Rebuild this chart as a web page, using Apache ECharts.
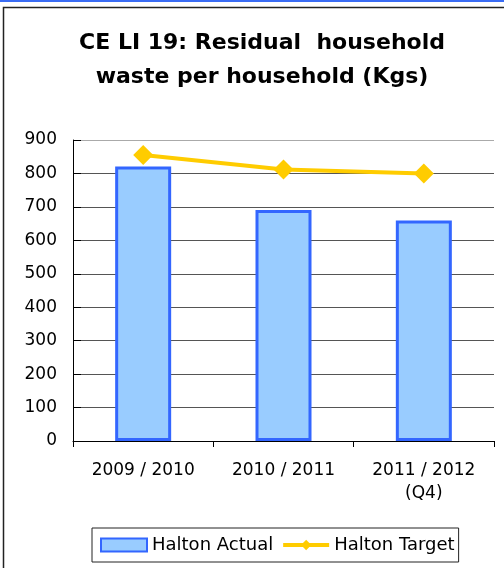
<!DOCTYPE html>
<html>
<head>
<meta charset="utf-8">
<script src="https://cdn.jsdelivr.net/npm/echarts@6/dist/echarts.min.js"></script>
<style>
  html, body { margin: 0; padding: 0; background: #fff; }
  #chart { width: 504px; height: 568px; }
</style>
</head>
<body>
<div id="chart"></div>
<script>
// Residual household waste per household (kg), Halton
const categories = ['2009 / 2010', '2010 / 2011', '2011 / 2012\n(Q4)'];
const haltonActual = [821, 691, 659];
const haltonTarget = [855, 812, 800];
const yTicks = [0, 100, 200, 300, 400, 500, 600, 700, 800, 900];

const FONT = '"DejaVu Sans", "Liberation Sans", Arial, sans-serif';

// one colour per horizontal grid line, the top one drawn lighter
const gridColors = yTicks.map((v, i) => (i === yTicks.length - 1 ? '#aaaaaa' : '#555555'));

const chart = echarts.init(document.getElementById('chart'), null, { renderer: 'canvas' });

chart.setOption({
  backgroundColor: '#ffffff',
  animation: false,
  title: {
    text: 'CE LI 19: Residual  household\nwaste per household (Kgs)',
    left: 257,
    top: 21,
    textAlign: 'center',
    textStyle: {
      fontFamily: FONT,
      fontSize: 22,
      fontWeight: 'bold',
      color: '#000',
      lineHeight: 34
    }
  },
  graphic: [
    { type: 'rect', shape: { x: 0, y: 0, width: 504, height: 2 }, style: { fill: '#3a6cf4' }, silent: true },
    { type: 'rect', shape: { x: 3.5, y: 7.5, width: 520, height: 580 }, style: { fill: 'none', stroke: '#222', lineWidth: 1.5 }, silent: true, z: -1 }
  ],
  grid: { left: 73, right: 10, top: 140, bottom: 127 },
  legend: {
    left: 92,
    top: 528,
    padding: [8, 4, 8, 8],
    borderColor: '#222',
    borderWidth: 1,
    itemWidth: 46,
    itemHeight: 13,
    itemGap: 8,
    textStyle: { fontFamily: FONT, fontSize: 18, color: '#000' },
    data: [
      { name: 'Halton Actual', icon: 'rect' },
      { name: 'Halton Target', lineStyle: { width: 4, color: '#ffcc00' } }
    ]
  },
  xAxis: {
    type: 'category',
    data: categories,
    boundaryGap: true,
    axisLine: { lineStyle: { color: '#000', width: 1 } },
    axisTick: { show: true, alignWithLabel: false, length: 6, lineStyle: { color: '#000' } },
    axisLabel: { fontFamily: FONT, fontSize: 17, color: '#000', margin: 18, lineHeight: 23 }
  },
  yAxis: {
    type: 'value',
    min: 0,
    max: 900,
    interval: 100,
    axisLine: { show: true, lineStyle: { color: '#000', width: 1 } },
    axisTick: { show: true, inside: true, length: 8, lineStyle: { color: '#000' } },
    axisLabel: { fontFamily: FONT, fontSize: 17, color: '#000', margin: 16 },
    splitLine: { show: true, lineStyle: { color: gridColors, width: 1 } }
  },
  series: [
    {
      name: 'Halton Actual',
      type: 'bar',
      data: haltonActual,
      barWidth: 56,
      itemStyle: { color: '#99ccff', borderColor: '#3366ff', borderWidth: 3 }
    },
    {
      name: 'Halton Target',
      type: 'line',
      data: haltonTarget,
      symbol: 'diamond',
      symbolSize: 20,
      lineStyle: { color: '#ffcc00', width: 4 },
      itemStyle: { color: '#ffcc00' },
      z: 5
    }
  ]
});
</script>
</body>
</html>
